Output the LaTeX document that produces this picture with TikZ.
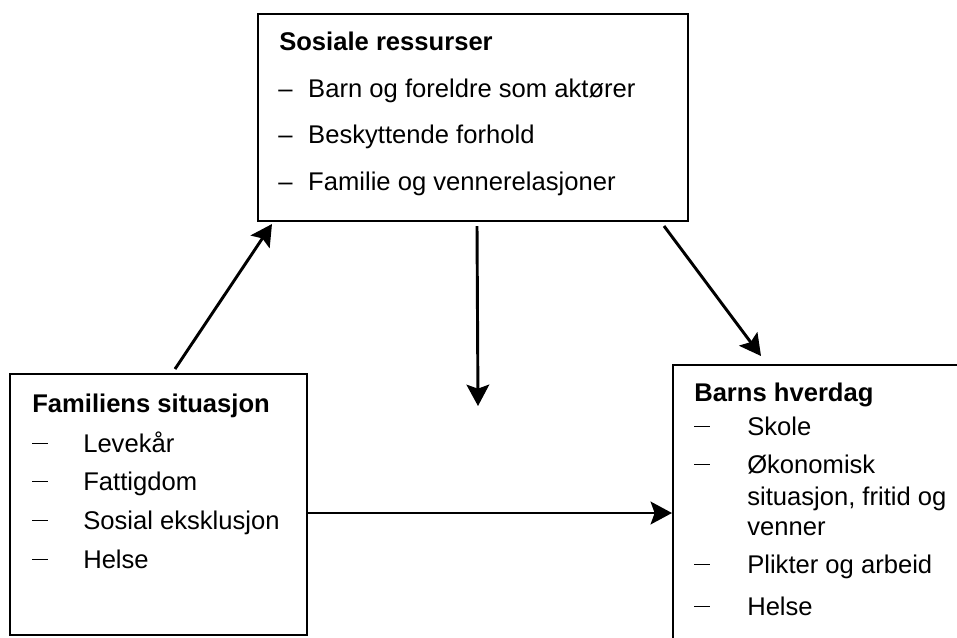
\documentclass[tikz,border=0pt]{standalone}
\usepackage{fontspec}
\setmainfont{Liberation Sans}
\usetikzlibrary{arrows.meta,calc}
\newcommand\topdash{\makebox[22.5pt][l]{–}}
\newcommand\lstdashL{\makebox[38.25pt][l]{\rule[6pt]{12pt}{0.9pt}}}
\newcommand\lstdashR{\makebox[39.75pt][l]{\rule[6pt]{12pt}{0.9pt}}}
\begin{document}
\begin{tikzpicture}[x=0.75pt,y=-0.75pt,
  box/.style={draw, line width=1.5pt, inner sep=0pt, fill=none},
  txt/.style={anchor=base west, inner sep=0pt, font=\fontsize{19.2}{23}\selectfont},
  ttl/.style={anchor=base west, inner sep=0pt, font=\fontsize{19.2}{23}\selectfont\bfseries},
  arr/.style={line width=2.2pt, -{Stealth[length=16pt,width=17pt,inset=3pt]}}]
\useasboundingbox (0,0) rectangle (957,637);
\clip (0,0) rectangle (957,637);
% boxes
\node[box, minimum width=322.5pt, minimum height=155.25pt] (soc) at (473,117.5) {};
\node[box, minimum width=222.75pt, minimum height=195.75pt] (fam) at (158.5,504.5) {};
\node[box, minimum width=219pt, minimum height=210pt] (barn) at (819,505) {};
% top box text
\node[ttl] (s0) at (279,50) {Sosiale ressurser};
\node[txt] (s1) at (278,97) {\topdash Barn og foreldre som aktører};
\node[txt] (s2) at (278,143) {\topdash Beskyttende forhold};
\node[txt] (s3) at (278,190) {\topdash Familie og vennerelasjoner};
% left box text
\node[ttl] (f0) at (32,412) {Familiens situasjon};
\node[txt] (f1) at (32,452) {\lstdashL Levekår};
\node[txt] (f2) at (32,490) {\lstdashL Fattigdom};
\node[txt] (f3) at (32,529) {\lstdashL Sosial eksklusjon};
\node[txt] (f4) at (32,568) {\lstdashL Helse};
% right box text
\node[ttl] (b0) at (694,401) {Barns hverdag};
\node[txt] (b1) at (694,435) {\lstdashR Skole};
\node[txt] (b2) at (694,473) {\lstdashR Økonomisk};
\node[txt] (b2b) at (747,505) {situasjon, fritid og};
\node[txt] (b2c) at (747,535) {venner};
\node[txt] (b3) at (694,573) {\lstdashR Plikter og arbeid};
\node[txt] (b4) at (694,615) {\lstdashR Helse};
% arrows
\coordinate (mid) at (478,406);
\draw[arr] ($(fam.north west)+(166,-4)$) -- ($(soc.south west)+(15,2)$);
\draw[arr] ($(soc.south west)+(220,4)$) -- (mid);
\draw[arr] ($(soc.south east)+(-25,4)$) -- ($(barn.north west)+(89,-8)$);
\draw[arr] ($(fam.north east)+(0,140)$) -- ($(barn.north west)+(0,149)$);
\end{tikzpicture}
\end{document}
